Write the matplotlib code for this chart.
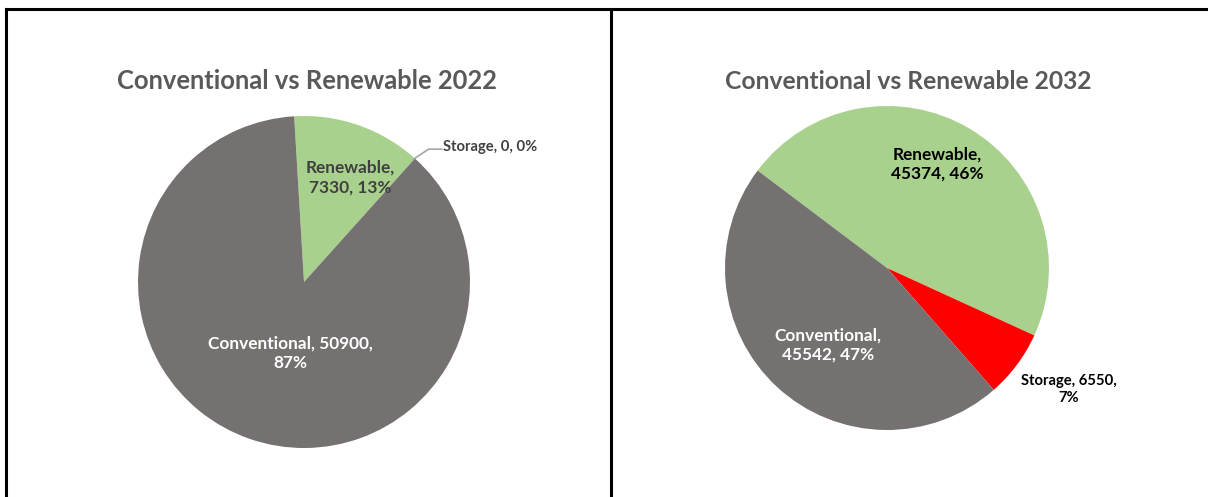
import matplotlib
matplotlib.use("Agg")
import matplotlib.pyplot as plt
from matplotlib.lines import Line2D

plt.rcParams['font.family'] = ['Lato', 'DejaVu Sans']

# Data
categories = ["Renewable", "Storage", "Conventional"]
values_2022 = [7330, 0, 50900]
values_2032 = [45374, 6550, 45542]
pct_2022 = [13, 0, 87]
pct_2032 = [46, 7, 47]
titles = ["Conventional vs Renewable 2022", "Conventional vs Renewable 2032"]
colors = ["#A9D18E", "#FF0000", "#767171"]

W, H = 1208, 497
fig = plt.figure(figsize=(W / 100, H / 100), dpi=100)
fig.patch.set_facecolor("white")


def make_ax(cx, cy, r):
    return fig.add_axes([(cx - r) / W, (H - cy - r) / H, 2 * r / W, 2 * r / H])


LBL = 12.4
SML = 10.6

# ---- Left pie (2022)
ax1 = make_ax(304, 282, 166)
ax1.pie(values_2022, colors=colors, startangle=93.4, counterclock=False,
        radius=1, wedgeprops=dict(linewidth=0))
ax1.set_xlim(-1, 1); ax1.set_ylim(-1, 1); ax1.set_aspect("equal"); ax1.axis("off")
ax1.text(0.28, 0.63, f"{categories[0]},\n{values_2022[0]}, {pct_2022[0]}%",
         ha="center", va="center", fontsize=LBL, fontweight="bold", color="#404040",
         linespacing=1.25)
ax1.text(-0.084, -0.43, f"{categories[2]}, {values_2022[2]},\n{pct_2022[2]}%",
         ha="center", va="center", fontsize=LBL, fontweight="bold", color="white",
         linespacing=1.25)
ax1.add_line(Line2D([0.66, 0.75, 0.83], [0.74, 0.80, 0.80], color="#A6A6A6", lw=1.2,
                    clip_on=False))
ax1.text(0.84, 0.815, f"{categories[1]}, {values_2022[1]}, {pct_2022[1]}%",
         ha="left", va="center", fontsize=SML, fontweight="bold", color="#404040")

# ---- Right pie (2032)
ax2 = make_ax(887, 268, 162)
ax2.pie(values_2032, colors=colors, startangle=143, counterclock=False,
        radius=1, wedgeprops=dict(linewidth=0))
ax2.set_xlim(-1, 1); ax2.set_ylim(-1, 1); ax2.set_aspect("equal"); ax2.axis("off")
ax2.text(0.31, 0.64, f"{categories[0]},\n{values_2032[0]}, {pct_2032[0]}%",
         ha="center", va="center", fontsize=LBL, fontweight="bold", color="black",
         linespacing=1.25)
ax2.text(-0.364, -0.475, f"{categories[2]},\n{values_2032[2]}, {pct_2032[2]}%",
         ha="center", va="center", fontsize=LBL, fontweight="bold", color="white",
         linespacing=1.25)
ax2.text(1.12, -0.75, f"{categories[1]}, {values_2032[1]},\n{pct_2032[1]}%",
         ha="center", va="center", fontsize=SML, fontweight="bold", color="black",
         linespacing=1.3)

# Titles
fig.text(307 / W, 1 - 81 / H, titles[0], ha="center", va="center", fontsize=18.4,
         fontweight="bold", color="#595959")
fig.text(908 / W, 1 - 81 / H, titles[1], ha="center", va="center", fontsize=17.7,
         fontweight="bold", color="#595959")

# Frame lines
fig.add_artist(Line2D([6 / W, 1], [1 - 9 / H, 1 - 9 / H], color="black", lw=2.2,
                      transform=fig.transFigure))
fig.add_artist(Line2D([6 / W, 6 / W], [0, 1 - 9 / H], color="black", lw=2.2,
                      transform=fig.transFigure))
fig.add_artist(Line2D([610.5 / W, 610.5 / W], [0, 1 - 9 / H], color="black", lw=2.2,
                      transform=fig.transFigure))

fig.savefig("out.png", dpi=100, facecolor="white")
